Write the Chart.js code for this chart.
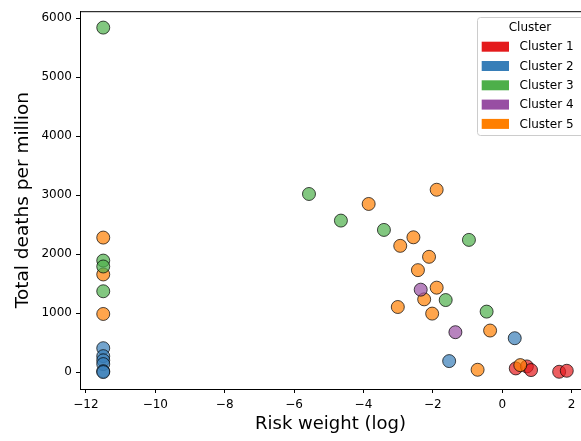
<!DOCTYPE html>
<html>
<head>
<meta charset="utf-8">
<script src="https://cdn.jsdelivr.net/npm/chart.js@4.4.1/dist/chart.umd.min.js"></script>
<style>
  html, body { margin: 0; padding: 0; background: #fff; overflow: hidden; }
  #wrap { width: 581px; height: 441px; }
</style>
</head>
<body>
<div id="wrap"><canvas id="chart" width="581" height="441"></canvas></div>
<script>
(function() {
    'use strict';

    const FONT = "'DejaVu Sans', sans-serif";

    // cluster names and Set1 colours
    const clusterNames = ['Cluster 1', 'Cluster 2', 'Cluster 3', 'Cluster 4', 'Cluster 5'];
    const clusterColors = ['#e41a1c', '#377eb8', '#4daf4a', '#984ea3', '#ff7f00'];

    // risk weight (log) per country, by cluster
    const riskC1 = [0.39, 0.71, 0.83, 1.64, 1.86];
    const riskC2 = [-11.5, -11.5, -11.5, -11.5, -11.5, -11.5, 0.36, -1.53];
    const riskC3 = [-11.5, -11.5, -11.5, -11.5, -5.57, -4.65, -3.41, -0.96, -1.63, -0.45];
    const riskC4 = [-2.35, -1.35];
    const riskC5 = [-11.5, -11.5, -11.5, -1.89, -3.85, -2.56, -2.94, -2.11, -2.43, -1.89,
                    -2.25, -3.01, -2.02, -0.35, -0.71, 0.52];

    // total deaths per million, same order
    const deathsC1 = [62, 96, 34, 5, 22];
    const deathsC2 = [405, 270, 200, 135, 15, 0, 574, 186];
    const deathsC3 = [5840, 1890, 1790, 1370, 3019, 2568, 2410, 2241, 1221, 1025];
    const deathsC4 = [1397, 676];
    const deathsC5 = [2280, 1655, 985, 3091, 2850, 2285, 2140, 1954, 1728, 1431,
                      1233, 1103, 991, 704, 39, 118];

    // tick values
    const xTicks = [-12, -10, -8, -6, -4, -2, 0, 2];
    const yTicks = [0, 1000, 2000, 3000, 4000, 5000, 6000];

    const riskSets = [riskC1, riskC2, riskC3, riskC4, riskC5];
    const deathSets = [deathsC1, deathsC2, deathsC3, deathsC4, deathsC5];
    // higher order is drawn underneath
    const drawOrder = [5, 1, 3, 2, 4];

    function withAlpha(hex, a) {
        const n = parseInt(hex.slice(1), 16);
        return `rgba(${(n >> 16) & 255}, ${(n >> 8) & 255}, ${n & 255}, ${a})`;
    }

    const datasets = clusterNames.map((name, i) => ({
        label: name,
        data: riskSets[i].map((x, j) => ({ x, y: deathSets[i][j] })),
        backgroundColor: withAlpha(clusterColors[i], 0.7),
        borderColor: 'rgba(0, 0, 0, 0.7)',
        borderWidth: 1,
        pointRadius: 6.5,
        pointHoverRadius: 6.5,
        order: drawOrder[i]
    }));

    const minus = (v) => String(v).replace('-', '\u2212');

    // top spine (matplotlib-style frame)
    const framePlugin = {
        id: 'frame',
        afterDatasetsDraw(chart) {
            const { ctx, chartArea } = chart;
            ctx.save();
            ctx.strokeStyle = '#000';
            ctx.lineWidth = 1;
            ctx.beginPath();
            ctx.moveTo(chartArea.left, chartArea.top + 0.5);
            ctx.lineTo(chartArea.right + 5, chartArea.top + 0.5);
            ctx.stroke();
            ctx.restore();
        }
    };

    // legend box with title, drawn in the upper right corner
    const legendPlugin = {
        id: 'clusterLegend',
        afterDraw(chart) {
            const { ctx } = chart;
            const boxX = 477.5, boxY = 17.5, boxW = 140, boxH = 118;
            ctx.save();
            ctx.beginPath();
            ctx.roundRect(boxX, boxY, boxW, boxH, 3);
            ctx.fillStyle = 'rgba(255, 255, 255, 0.8)';
            ctx.fill();
            ctx.strokeStyle = '#cccccc';
            ctx.lineWidth = 1;
            ctx.stroke();

            ctx.fillStyle = '#000';
            ctx.font = `12px ${FONT}`;
            ctx.textBaseline = 'middle';
            ctx.textAlign = 'center';
            ctx.fillText('Cluster', 530, 28);

            ctx.textAlign = 'left';
            chart.data.datasets.forEach((ds, i) => {
                const top = 41.7 + i * 19.3;
                ctx.fillStyle = clusterColors[i];
                ctx.fillRect(481.7, top, 27.3, 10);
                ctx.fillStyle = '#000';
                ctx.fillText(ds.label, 519.5, top + 5.5);
            });
            ctx.restore();
        }
    };

    const tickFont = { family: FONT, size: 12 };

    new Chart(document.getElementById('chart'), {
        type: 'scatter',
        data: { datasets },
        options: {
            responsive: false,
            animation: false,
            events: [],
            layout: { autoPadding: false, padding: { top: 10, right: 0, left: 0, bottom: 0 } },
            plugins: {
                legend: { display: false },
                tooltip: { enabled: false }
            },
            scales: {
                x: {
                    type: 'linear',
                    min: -12.17,
                    max: 2.27,
                    afterFit(scale) { scale.height = 52; },
                    afterBuildTicks(scale) {
                        scale.ticks = xTicks.map(v => ({ value: v }));
                    },
                    ticks: {
                        font: tickFont,
                        color: '#000',
                        padding: 5,
                        maxRotation: 0,
                        callback: (v) => minus(v)
                    },
                    grid: {
                        drawOnChartArea: false,
                        drawTicks: true,
                        tickLength: 4,
                        color: '#000'
                    },
                    border: { display: true, color: '#000', width: 1 },
                    title: {
                        display: true,
                        text: 'Risk weight (log)',
                        font: { family: FONT, size: 18 },
                        color: '#000',
                        padding: { top: 0, bottom: 6 }
                    }
                },
                y: {
                    type: 'linear',
                    min: -287,
                    max: 6118,
                    afterFit(scale) { scale.width = 80; },
                    afterBuildTicks(scale) {
                        scale.ticks = yTicks.map(v => ({ value: v }));
                    },
                    ticks: {
                        font: tickFont,
                        color: '#000',
                        padding: 4,
                        callback: (v) => minus(v)
                    },
                    grid: {
                        drawOnChartArea: false,
                        drawTicks: true,
                        tickLength: 4,
                        color: '#000'
                    },
                    border: { display: true, color: '#000', width: 1 },
                    title: {
                        display: true,
                        text: 'Total deaths per million',
                        font: { family: FONT, size: 18.5 },
                        color: '#000',
                        padding: { top: 12, bottom: 0 }
                    }
                }
            }
        },
        plugins: [framePlugin, legendPlugin]
    });
})();
</script>
</body>
</html>
